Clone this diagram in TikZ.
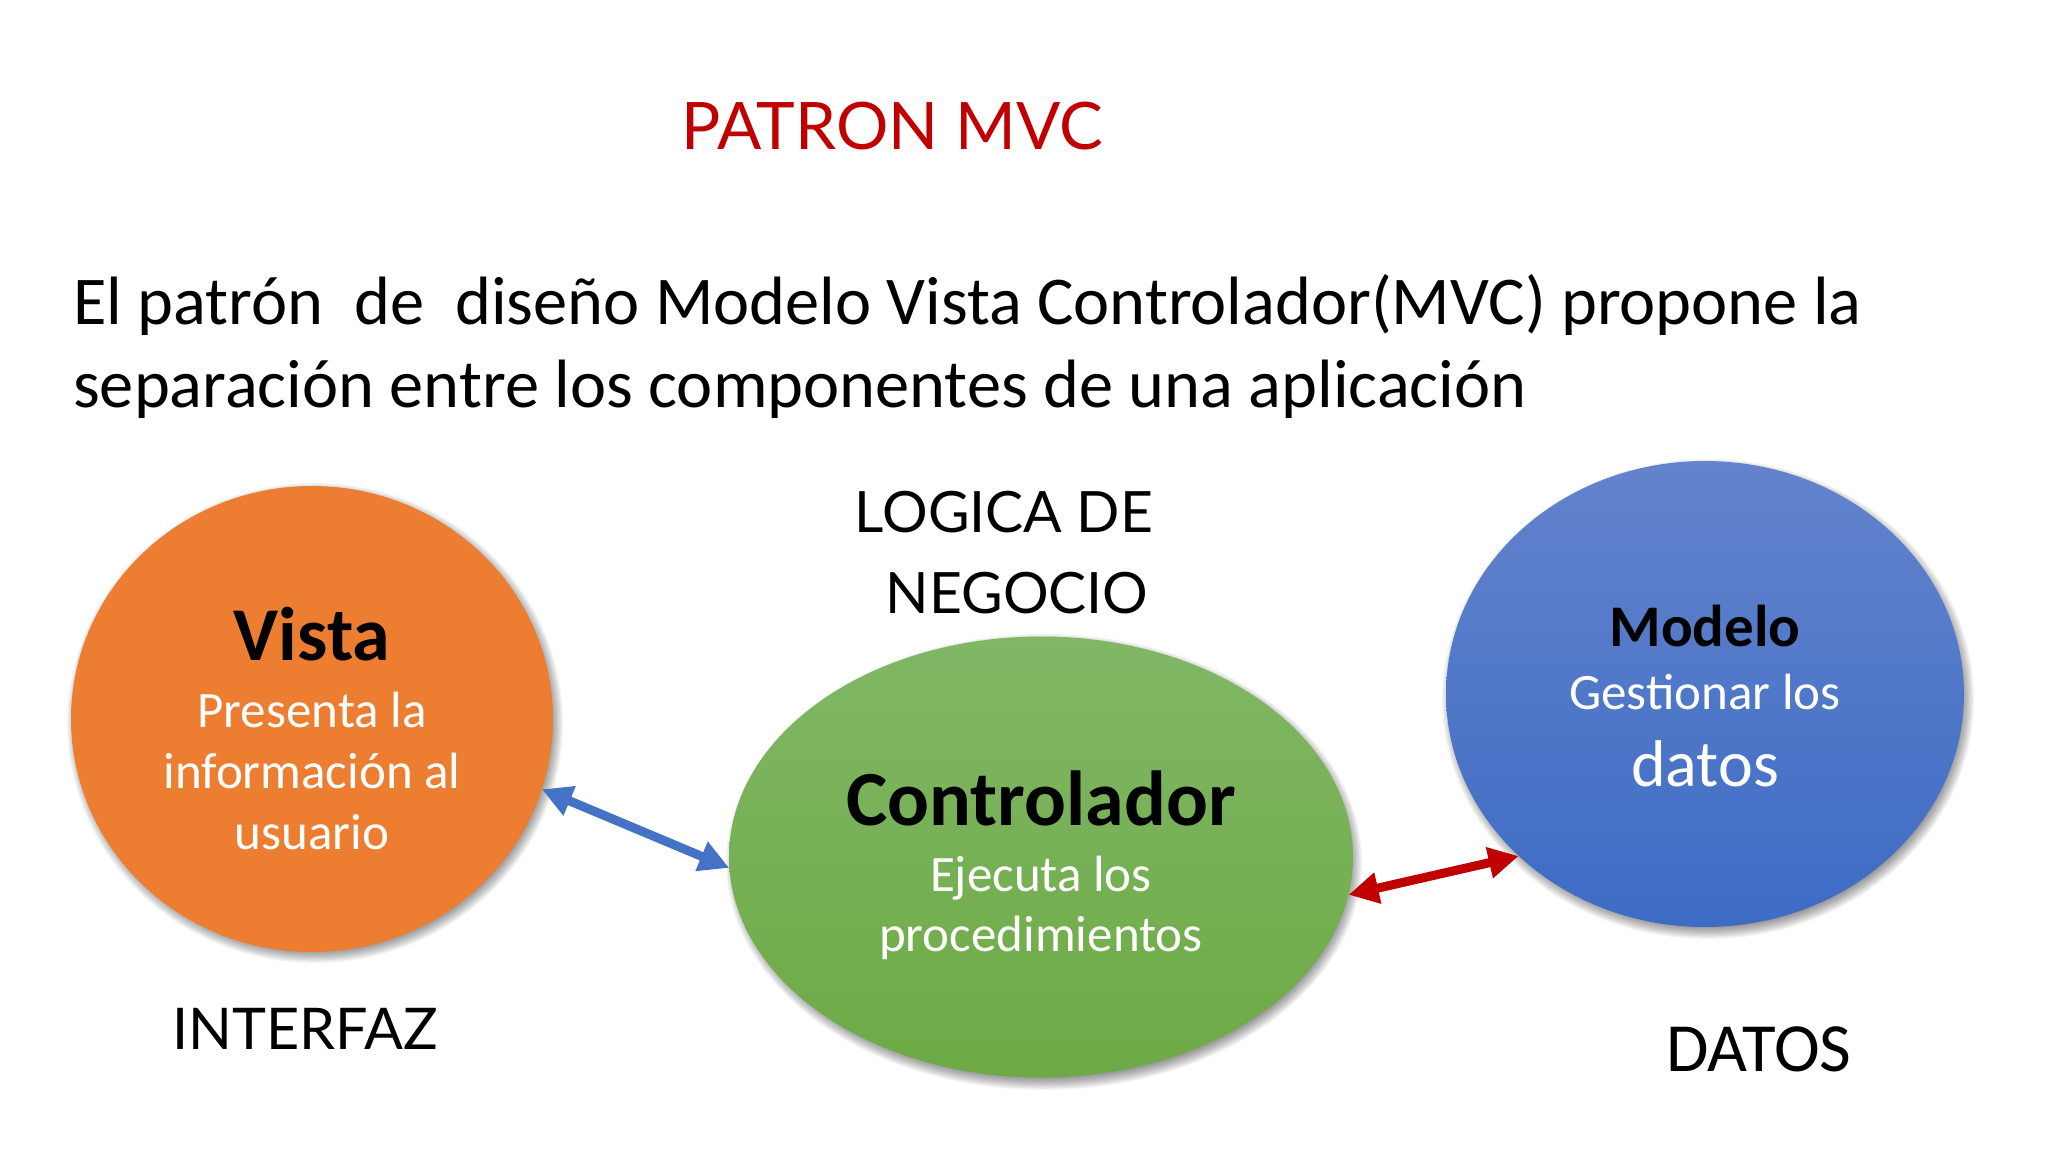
\documentclass[tikz,border=0pt]{standalone}
\usepackage{fontspec}
\setmainfont{Carlito}
\newfontfamily\latofont{Lato}
\usetikzlibrary{arrows.meta,shapes.geometric}
\definecolor{titlered}{HTML}{C00000}
\definecolor{vistaorange}{HTML}{ED7D31}
\definecolor{greentop}{HTML}{80B765}
\definecolor{greenbot}{HTML}{6DAA45}
\definecolor{bluetop}{HTML}{6383CC}
\definecolor{bluebot}{HTML}{3D6CC5}
\definecolor{arrowblue}{HTML}{4472C4}
\definecolor{arrowred}{HTML}{C00000}
\newcommand{\fs}[1]{\fontsize{#1}{#1}\selectfont}
\tikzset{
  blob/.style={ellipse, inner sep=0pt, draw=none},
  txt/.style={anchor=base, inner sep=0pt},
  ltxt/.style={anchor=base west, inner sep=0pt},
  biarrow/.style={line width=9pt, {Triangle[length=30pt,width=30pt]}-{Triangle[length=30pt,width=30pt]}, shorten <=0pt, shorten >=0pt},
}
\newcommand{\softshadow}[4]{%
  \foreach \k in {0,...,10} {
    \fill[black, opacity=0.045] (#1+3,#2+3) ellipse ({#3+1.2*\k} and {#4+1.2*\k});
  }%
}
\begin{document}
\begin{tikzpicture}[x=1pt, y=-1pt]
\useasboundingbox[fill=white] (0,0) rectangle (2048,1152);

% title
\node[txt, text=titlered, font=\latofont\fs{65.5}] (title) at (892,149) {PATRON MVC};

% paragraph
\node[ltxt, font=\fs{68.4}] (p1) at (73,324) {El patrón\ \ de\ \ diseño Modelo Vista Controlador(MVC) propone la};
\node[ltxt, font=\fs{68.4}] (p2) at (73,407) {separación entre los componentes de una aplicación};

% shadows
\softshadow{312}{720}{236}{228}
\softshadow{1041}{859}{306}{216}
\softshadow{1705}{696}{254}{228}

% ellipses
\node[blob, fill=vistaorange, minimum width=482pt, minimum height=466pt] (vista) at (312,719) {};
\node[blob, top color=greentop, bottom color=greenbot, minimum width=624pt, minimum height=441pt] (ctrl) at (1041,857) {};
\node[blob, top color=bluetop, bottom color=bluebot, minimum width=518pt, minimum height=466pt] (modelo) at (1705,694) {};

% Vista text
\node[txt, font=\bfseries\fs{76}] (vt) at (312,660) {Vista};
\node[txt, text=white, font=\fs{51}] (v1) at (312,727) {Presenta la};
\node[txt, text=white, font=\fs{51}] (v2) at (312,788) {información al};
\node[txt, text=white, font=\fs{51}] (v3) at (312,849) {usuario};

% Controlador text
\node[txt, font=\bfseries\fs{78}] (ct) at (1041,825) {Controlador};
\node[txt, text=white, font=\fs{51}] (c1) at (1041,891) {Ejecuta los};
\node[txt, text=white, font=\fs{51}] (c2) at (1041,951) {procedimientos};

% Modelo text
\node[txt, font=\bfseries\fs{59}] (mt) at (1705,646) {Modelo};
\node[txt, text=white, font=\fs{51}] (m1) at (1705,709) {Gestionar los};
\node[txt, text=white, font=\fs{66}] (m2) at (1705,786) {datos};

% labels
\node[txt, font=\latofont\fs{57}] (lg1) at (1004,532) {LOGICA DE};
\node[txt, font=\latofont\fs{57}] (lg2) at (1017,613) {NEGOCIO};
\node[txt, font=\latofont\fs{57.5}] (interfaz) at (305,1049) {INTERFAZ};
\node[txt, font=\fs{69}] (datos) at (1759,1071) {DATOS};

% arrows
\draw[biarrow, arrowblue] (vista.-17) -- (ctrl.182);
\draw[biarrow, arrowred] (ctrl.-7) -- (modelo.221.7);
\end{tikzpicture}
\end{document}
